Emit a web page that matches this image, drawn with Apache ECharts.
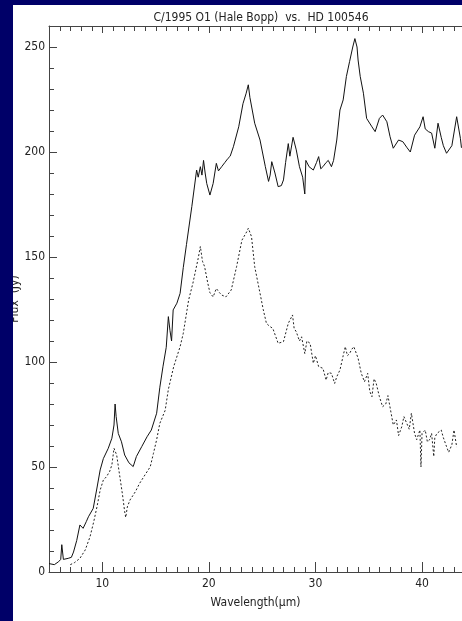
<!DOCTYPE html>
<html>
<head>
<meta charset="utf-8">
<script src="https://cdn.jsdelivr.net/npm/echarts@6/dist/echarts.min.js"></script>
<style>
html,body{margin:0;padding:0;background:#fff;}
#main{width:462px;height:621px;}
</style>
</head>
<body>
<div id="main"></div>
<script>
var myChart = echarts.init(document.getElementById('main'));

var titleText = 'C/1995 O1 (Hale Bopp)  vs.  HD 100546';
var xLabels = [10, 20, 30, 40];
var yLabels = [0, 50, 100, 150, 200, 250];

// Hale Bopp (solid)
var solidWave = [5.0,5.5,5.9,6.1,6.2,6.35,6.8,7.1,7.3,7.6,7.9,8.2,8.5,8.7,9.15,9.5,9.8,10.1,10.56,10.9,11.1,11.2,11.3,11.5,11.8,12.1,12.5,12.9,13.2,13.7,14.2,14.6,15.1,15.4,15.7,16.0,16.2,16.35,16.5,16.65,17.0,17.3,17.6,17.9,18.4,18.85,19.0,19.2,19.35,19.5,19.65,19.8,20.1,20.4,20.7,20.9,21.2,21.5,21.8,22.0,22.3,22.8,23.2,23.5,23.7,23.85,24.3,24.8,25.3,25.6,25.75,25.9,26.2,26.5,26.8,27.0,27.2,27.45,27.6,27.9,28.2,28.5,28.8,29.0,29.1,29.4,29.8,30.1,30.3,30.5,30.7,31.0,31.2,31.5,31.7,32.0,32.3,32.6,32.9,33.2,33.5,33.7,33.9,34.0,34.2,34.5,34.8,35.3,35.6,36.0,36.3,36.7,37.0,37.3,37.8,38.2,38.6,38.9,39.3,39.8,40.1,40.3,40.6,40.9,41.2,41.5,41.8,42.0,42.3,42.8,43.25,43.6,43.7];
var solidFlux = [4.0,3.5,4.9,6,13,6,6.5,7,9.5,15,22.4,20.8,24,26.3,30.3,40,48.6,54,58.9,63.7,70,80,74,66,62,55.7,52,50.2,55,59.7,64.4,67.6,75.6,88,98,107,121.6,115,110,124.8,128,132.7,145,156,174,191.4,188,193,189,196,190,185,179.5,185,194.6,191,193,195,197,198,202.5,212,223,228,232,226,213.7,205.7,193,186,189,195.4,190,183.5,184,186.7,195,204,198,207,201,193,188,180,196,193,191.4,195,197.8,192,193,195,196,193,196,205.7,220,224.8,235.9,243,250,254,250,243.8,236,228,216,212,209.7,216,217.6,214.4,207.3,201.8,205.7,204.9,202,200,208,212,216.8,211,209.7,209,201.8,213.7,207,203,199.4,203,216.8,206.5,202];

// HD 100546 (dotted)
var dotWave = [7.0,7.4,7.9,8.4,8.85,9.2,9.5,9.8,10.1,10.4,10.7,10.9,11.1,11.35,11.6,11.9,12.1,12.2,12.35,12.6,13.1,13.5,14.0,14.5,14.8,15.1,15.4,15.9,16.2,16.7,17.3,17.6,18.1,18.5,19.0,19.2,19.4,19.6,19.9,20.1,20.4,20.7,21.0,21.2,21.6,22.1,22.6,23.1,23.55,23.7,24.0,24.3,24.8,25.1,25.4,25.7,26.0,26.5,27.0,27.45,27.85,28.0,28.2,28.5,28.7,29.0,29.2,29.5,29.8,30.0,30.3,30.7,31.0,31.2,31.5,31.8,32.0,32.3,32.6,32.8,33.0,33.2,33.4,33.6,34.0,34.3,34.6,34.9,35.1,35.3,35.5,35.7,36.0,36.3,36.6,36.8,37.1,37.3,37.6,37.8,38.1,38.3,38.55,38.8,39.0,39.3,39.5,39.8,39.9,40.0,40.3,40.5,40.7,40.9,41.1,41.2,41.4,41.8,42.0,42.3,42.5,42.8,43.0,43.25];
var dotFlux = [3.5,4.5,6.5,10.5,16.8,24,31,39,43.8,45.4,48,51,58.9,55.7,47,36.7,28.7,26,31,34.3,38.2,42.2,46.2,50.1,56.5,63,70.8,77,87,97.8,107.3,113.7,129.5,137.5,149.4,155,148,145.4,137.5,133,131,135,133,131.9,131,134.3,145.4,158,162,163.7,159.7,145.4,132.7,125,118.4,117,116,108.9,109.7,118.4,122.4,116,114.4,110,112,104,110,108.9,99.4,103,97.8,97,91.4,95,94.6,89.8,93,96.2,103,107.3,103,104,106,107.3,101.8,94.6,90.6,94.6,86,83.5,92,89.8,83.5,78.7,80,84,75.6,70,72.4,65,69.2,74,71,68,75.6,66,63,67.6,50,66,67.6,62,62.9,66,55,64,66,67.6,64,59.7,57,60.6,67.6,59.5];

var solidData = solidWave.map(function (w, i) { return [w, solidFlux[i]]; });
var dotData = dotWave.map(function (w, i) { return [w, dotFlux[i]]; });

var font = "'DejaVu Sans Condensed', 'Liberation Sans Narrow', sans-serif";
var axisColor = '#444';
var textColor = '#222';
var navy = '#000068';
var xMin = 5, xMax = 43.75;
var yMin = 0, yMax = 260;

var frameRects = [
    { type: 'rect', left: 0, top: 0, z: 100, shape: { width: 13, height: 621 }, style: { fill: navy } },
    { type: 'rect', left: 0, top: 0, z: 100, shape: { width: 462, height: 5 }, style: { fill: navy } }
];

option = {
    backgroundColor: '#ffffff',
    animation: false,
    title: {
        text: titleText, left: 256, top: 7, textAlign: 'center',
        textStyle: { color: textColor, fontSize: 12, fontWeight: 'normal', fontFamily: font }
    },
    grid: { left: 49, top: 26, right: 0, bottom: 49, containLabel: false, outerBoundsMode: 'none' },
    xAxis: [
        {
            type: 'value', position: 'bottom', min: xMin, max: xMax, interval: 1,
            axisLine: { show: true, onZero: false, lineStyle: { color: axisColor, width: 1 } },
            axisTick: { show: false },
            axisLabel: { show: true, customValues: xLabels, margin: 6, color: textColor, fontSize: 12, fontFamily: font },
            splitLine: { show: false },
            name: 'Wavelength(\u03bcm)', nameLocation: 'middle', nameGap: 25, nameMoveOverlap: false,
            nameTextStyle: { color: textColor, fontSize: 12, fontFamily: font }
        },
        {
            type: 'value', position: 'top', min: xMin, max: xMax, interval: 1,
            axisLine: { show: true, onZero: false, lineStyle: { color: axisColor, width: 1 } },
            axisTick: { show: false }, axisLabel: { show: false }, splitLine: { show: false }
        }
    ],
    yAxis: {
        type: 'value', position: 'left', min: yMin, max: yMax, interval: 10,
        axisLine: { show: true, onZero: false, lineStyle: { color: axisColor, width: 1 } },
        axisTick: { show: false },
        axisLabel: { show: true, customValues: yLabels, margin: 4, color: textColor, fontSize: 12, fontFamily: font },
        splitLine: { show: false },
        name: 'Flux  (Jy)', nameLocation: 'middle', nameGap: 28, nameRotate: 90, nameMoveOverlap: false,
        nameTextStyle: { color: textColor, fontSize: 12, fontFamily: font }
    },
    graphic: frameRects,
    series: [
        {
            name: 'Hale Bopp', type: 'line', xAxisIndex: 0, yAxisIndex: 0,
            data: solidData, symbol: 'none', smooth: false,
            lineStyle: { color: '#111', width: 1 }
        },
        {
            name: 'HD 100546', type: 'line', xAxisIndex: 0, yAxisIndex: 0,
            data: dotData, symbol: 'none', smooth: false,
            lineStyle: { color: '#222', width: 1, type: [2, 2] }
        }
    ]
};

myChart.setOption(option);

// inward ticks (IDL style), placed through the chart's own scales
function tickLine(p, dx, dy) {
    return {
        type: 'line', z: 50, silent: true,
        shape: { x1: p[0], y1: p[1], x2: p[0] + dx, y2: p[1] + dy },
        style: { stroke: axisColor, lineWidth: 1 }
    };
}
var ticks = [];
for (var v = 6; v < xMax; v++) {
    var major = xLabels.indexOf(v) >= 0;
    var pb = myChart.convertToPixel({ gridIndex: 0 }, [v, yMin]);
    var pt = myChart.convertToPixel({ gridIndex: 0 }, [v, yMax]);
    var xb = Math.round(pb[0]) + 0.5;
    ticks.push(tickLine([xb, pb[1]], 0, major ? -10 : -5));
    ticks.push(tickLine([xb, pt[1]], 0, major ? 7 : 5));
}
for (var f = 10; f < yMax; f += 10) {
    var pl = myChart.convertToPixel({ gridIndex: 0 }, [xMin, f]);
    ticks.push(tickLine([pl[0], Math.round(pl[1]) + 0.5], yLabels.indexOf(f) >= 0 ? 8 : 5, 0));
}
myChart.setOption({ graphic: frameRects.concat(ticks) });
</script>
</body>
</html>
